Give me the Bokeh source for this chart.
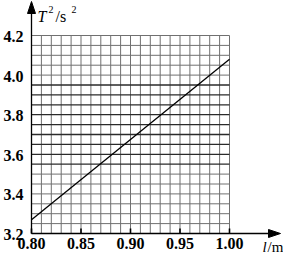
import numpy as np
from bokeh.plotting import figure
from bokeh.models import Range1d
from bokeh.core.properties import value
from bokeh.embed import file_html
from bokeh.resources import INLINE

# ---- data ----
x_ticks = [0.80, 0.85, 0.90, 0.95, 1.00]
x_tick_labels = ["0.80", "0.85", "0.90", "0.95", "1.00"]
y_ticks = [3.2, 3.4, 3.6, 3.8, 4.0, 4.2]
y_tick_labels = ["3.2", "3.4", "3.6", "3.8", "4.0", "4.2"]
line_l = [0.80, 1.00]
line_T2 = [3.27, 4.08]

# grid layout
x_min, x_max, x_step = 0.80, 1.00, 0.01
y_min, y_max, y_step = 3.2, 4.2, 0.05
dark_rows = [3.55, 3.60, 3.65, 3.70, 3.75, 3.80, 3.85, 3.90, 3.95]

W, H = 283, 255
X0PX, Y0PX = 31, 35          # pixel position of (x_min, y_max)
PX_X = 990.0                 # px per unit x
PX_Y = 198.0                 # px per unit y


def dx(px):
    return x_min + (px - X0PX) / PX_X


def dy(py):
    return y_max - (py - Y0PX) / PX_Y


p = figure(width=W, height=H, output_backend="svg", toolbar_location=None,
           x_range=Range1d(dx(0), dx(W)), y_range=Range1d(dy(H), dy(0)),
           min_border=0, x_axis_type=None, y_axis_type=None)
p.outline_line_color = None
p.background_fill_color = "white"
p.border_fill_color = "white"

# grid
xs = np.round(np.arange(x_min, x_max + 1e-9, x_step), 4)
ys = np.round(np.arange(y_min, y_max + 1e-9, y_step), 4)
p.segment(x0=xs, y0=[y_min] * len(xs), x1=xs, y1=[y_max] * len(xs), line_color="#707070", line_width=1)
light = [y for y in ys if not any(abs(y - d) < 1e-6 for d in dark_rows)]
p.segment(x0=[x_min] * len(light), y0=light, x1=[x_max] * len(light), y1=light, line_color="#707070", line_width=1)
p.segment(x0=[x_min] * len(dark_rows), y0=dark_rows, x1=[x_max] * len(dark_rows), y1=dark_rows,
          line_color="#2a2a2a", line_width=1.3)

# small ticks on x axis
p.segment(x0=x_ticks, y0=[y_min] * len(x_ticks), x1=x_ticks, y1=[y_min + 5 / PX_Y] * len(x_ticks),
          line_color="black", line_width=1.6)

# data line
p.line(line_l, line_T2, line_color="black", line_width=1.3)

# axes lines with arrow heads
tip_y_px, tip_x_px, head_len, head_half = 1, 280, 12, 4
p.segment(x0=[x_min, x_min], y0=[y_min, y_min], x1=[x_min, dx(tip_x_px - 8)], y1=[dy(tip_y_px + 8), y_min],
          line_color="black", line_width=1.3)
p.patches(
    xs=[[x_min, x_min - head_half / PX_X, x_min + head_half / PX_X],
        [dx(tip_x_px), dx(tip_x_px - head_len), dx(tip_x_px - head_len)]],
    ys=[[dy(tip_y_px), dy(tip_y_px + head_len), dy(tip_y_px + head_len)],
        [y_min, y_min + head_half / PX_Y, y_min - head_half / PX_Y]],
    fill_color="black", line_color="black", line_width=1)

# tick labels
FONT = "Liberation Serif"
p.text(x=[dx(23)] * len(y_ticks), y=[t - 1 / PX_Y for t in y_ticks], text=y_tick_labels,
       text_font=value(FONT), text_font_size="16px", text_font_style="bold",
       text_align="right", text_baseline="middle", text_color="black")
p.text(x=x_ticks, y=[dy(243)] * len(x_ticks), text=x_tick_labels,
       text_font=value(FONT), text_font_size="16px", text_font_style="bold",
       text_align="center", text_baseline="middle", text_color="black")

# axis titles
p.text(x=[dx(37)], y=[dy(16)], text=["T"], text_font=value(FONT), text_font_style="italic",
       text_font_size="16px", text_baseline="alphabetic", text_color="black")
p.text(x=[dx(48), dx(71)], y=[dy(9), dy(9)], text=["2", "2"], text_font=value(FONT),
       text_font_size="10px", text_baseline="alphabetic", text_color="black")
p.text(x=[dx(55)], y=[dy(16)], text=["/s"], text_font=value(FONT),
       text_font_size="16px", text_baseline="alphabetic", text_color="black")
p.text(x=[dx(262)], y=[dy(246)], text=["l"], text_font=value(FONT), text_font_style="italic",
       text_font_size="15px", text_baseline="alphabetic", text_color="black")
p.text(x=[dx(267)], y=[dy(246)], text=["/m"], text_font=value(FONT),
       text_font_size="15px", text_baseline="alphabetic", text_color="black")

open("out.html", "w").write(file_html(p, INLINE))
